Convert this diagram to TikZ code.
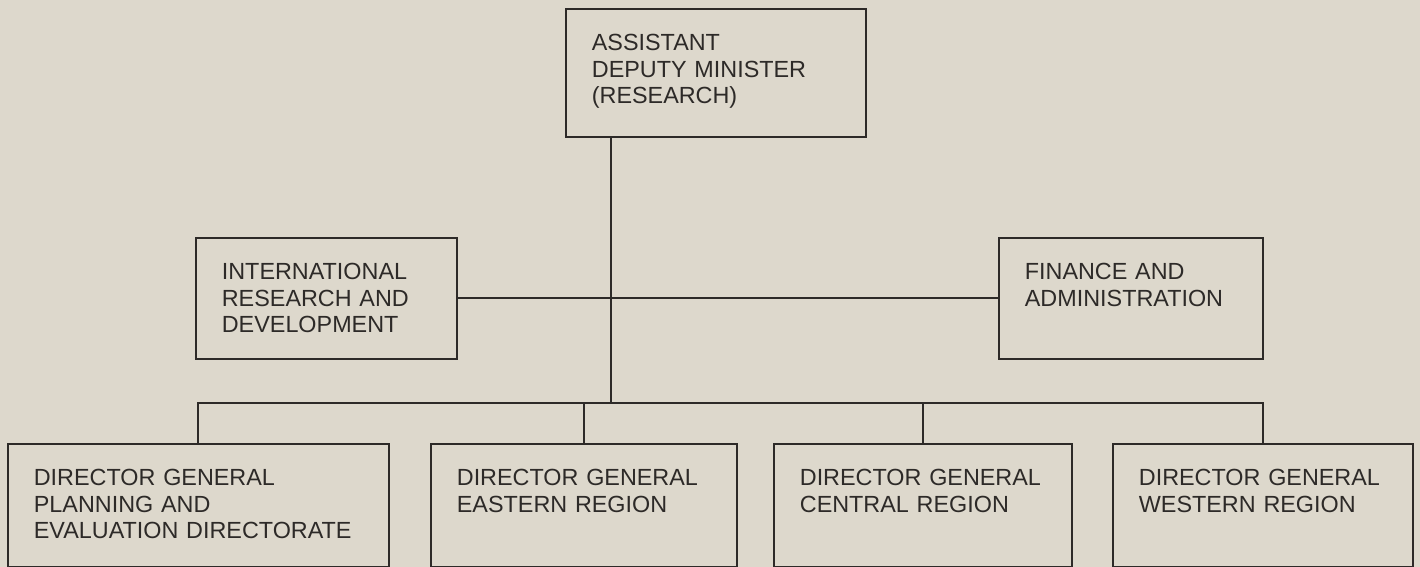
\documentclass[tikz,border=0pt]{standalone}
\definecolor{papercol}{RGB}{221,216,204}
\definecolor{inkcol}{RGB}{45,42,40}
\usepackage{fontspec}
\setmainfont{Liberation Sans}
\usepackage{tikz}
\usetikzlibrary{positioning, calc}
\hyphenpenalty=10000
\exhyphenpenalty=10000

\begin{document}
\begin{tikzpicture}[
    x=0.02cm, y=-0.02cm,
    unitbox/.style={draw=inkcol, line width=1pt, fill=papercol, text=inkcol, anchor=north west,
        align=left, inner xsep=0.52cm, inner ysep=0pt, text height=0.84cm,
        font=\fontsize{13.3}{15}\selectfont},
    link/.style={draw=inkcol, line width=1pt}
]
    \fill[papercol] (0,0) rectangle (1420,567);
    \useasboundingbox (0,0) rectangle (1420,567);

    % top of the chart
    \node[unitbox, text width=4.96cm, text depth=1.72cm] (adm) at (565,8)
        {ASSISTANT\\DEPUTY~MINISTER\\(RESEARCH)};

    % staff units
    \node[unitbox, text width=4.18cm, text depth=1.58cm] (intl) at (195,237)
        {INTERNATIONAL\\RESEARCH~AND\\DEVELOPMENT};
    \node[unitbox, text width=4.24cm, text depth=1.58cm] (fin) at (998,237)
        {FINANCE~AND\\ADMINISTRATION};

    % directors general
    \node[unitbox, text width=6.58cm, text depth=1.62cm] (dgplan) at (7,443)
        {DIRECTOR~GENERAL\\PLANNING~AND\\EVALUATION~DIRECTORATE};
    \node[unitbox, text width=5.08cm, text depth=1.62cm] (dgeast) at (430,443)
        {DIRECTOR~GENERAL\\EASTERN~REGION};
    \node[unitbox, text width=4.92cm, text depth=1.62cm] (dgcent) at (773,443)
        {DIRECTOR~GENERAL\\CENTRAL~REGION};
    \node[unitbox, text width=4.96cm, text depth=1.62cm] (dgwest) at (1112,443)
        {DIRECTOR~GENERAL\\WESTERN~REGION};

    % connectors
    \coordinate (trunk) at (611,403);
    \draw[link] (adm.south -| trunk) -- (trunk);
    \draw[link] (intl.east) -- (fin.west);
    \draw[link] (dgplan.north) |- (trunk) -| (dgwest.north);
    \draw[link] (dgeast.north) -- (dgeast.north |- trunk);
    \draw[link] (dgcent.north) -- (dgcent.north |- trunk);
\end{tikzpicture}
\end{document}
